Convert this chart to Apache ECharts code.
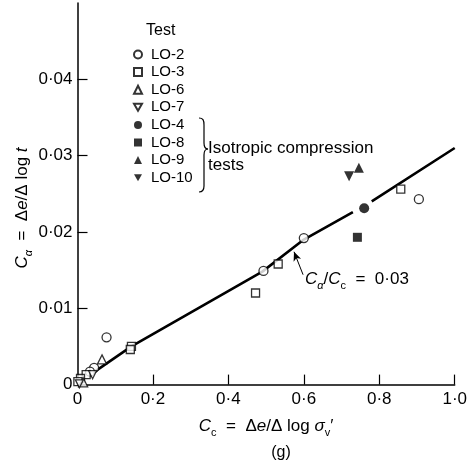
<!DOCTYPE html>
<html>
<head>
<meta charset="utf-8">
<script src="https://cdn.jsdelivr.net/npm/echarts@6/dist/echarts.min.js"></script>
<style>
html,body{margin:0;padding:0;background:#fff;}
#c{width:470px;height:462px;}
</style>
</head>
<body>
<div id="c"></div>
<script>
// ---- data ----
var xTicks = [0.2, 0.4, 0.6, 0.8, 1.0];
var xLabels = [0, 0.2, 0.4, 0.6, 0.8, 1.0];
var yTicks = [0.01, 0.02, 0.03, 0.04];
var yLabels = [0, 0.01, 0.02, 0.03, 0.04];
var legendNames = ['LO-2','LO-3','LO-6','LO-7','LO-4','LO-8','LO-9','LO-10'];

var lo2 = [[0.905,0.0243],[0.600,0.0192],[0.493,0.0149],[0.077,0.0062],[0.044,0.0022],[0.033,0.0017]];
var lo3 = [[0.857,0.0256],[0.532,0.0158],[0.472,0.0120],[0.143,0.0050],[0.140,0.0046],[0.023,0.0013],[0.008,0.0008],[0.001,0.0004]];
var lo6 = [[0.065,0.0033],[0.015,0.0003]];
var lo7 = [[0.040,0.0013],[0.005,0.0001]];
var lo4 = [[0.760,0.0231]];
var lo8 = [[0.742,0.0193]];
var lo9 = [[0.746,0.0284]];
var lo10 = [[0.720,0.0273]];
var trend = [[0.04,0.0015],[0.143,0.0050],[0.49,0.0148],[0.60,0.0190],[0.73,0.0226],'-',[0.78,0.0240],[1.0,0.0310]];

var FONT = 'Liberation Sans, Arial, Helvetica, sans-serif';
var dotFmt = function(d){ return function(v){ return v === 0 ? '0' : v.toFixed(d).replace('.', '\u00b7'); }; };
var DOWN = 'path://M0,0L10,0L5,8.66Z';

function openS(name, data, symbol, size, rot){
  return {name:name, type:'scatter', data:data, symbol:symbol, symbolSize:size, symbolRotate:rot||0,
    itemStyle:{color:'#fff', borderColor:'#000', borderWidth:1.3}, z:5};
}
function fillS(name, data, symbol, size, rot){
  return {name:name, type:'scatter', data:data, symbol:symbol, symbolSize:size, symbolRotate:rot||0,
    itemStyle:{color:'#000', borderColor:'#000', borderWidth:0}, z:5};
}

var richBase = {
  n:{fontFamily:FONT, fontSize:17, color:'#000', lineHeight:24, verticalAlign:'middle'},
  i:{fontFamily:FONT, fontSize:17, fontStyle:'italic', color:'#000', lineHeight:24, verticalAlign:'middle'},
  s:{fontFamily:FONT, fontSize:11, color:'#000', lineHeight:24, verticalAlign:'bottom'},
  si:{fontFamily:FONT, fontSize:11, fontStyle:'italic', color:'#000', lineHeight:24, verticalAlign:'bottom'}
};

var braceStyle = {fill:'none', stroke:'#000', lineWidth:1.2};
var legendIcons = {'LO-2':'circle','LO-3':'rect','LO-6':'triangle','LO-7':DOWN,'LO-4':'circle','LO-8':'rect','LO-9':'triangle','LO-10':DOWN};

var chart = echarts.init(document.getElementById('c'), null, {renderer:'canvas'});
chart.setOption({
  animation:false,
  backgroundColor:'#fff',
  grid:{left:77.5, right:14, top:3, bottom:77.4, containLabel:false},
  xAxis:{
    type:'value', min:0, max:1.0, interval:0.2,
    splitLine:{show:false},
    axisLine:{show:true, onZero:false, lineStyle:{color:'#000', width:1.5}},
    axisTick:{show:true, inside:true, length:10, lineStyle:{color:'#000', width:1.2}, customValues:xTicks},
    axisLabel:{show:true, customValues:xLabels, formatter:dotFmt(1), color:'#000', fontFamily:FONT, fontSize:17, margin:6},
    name:'{i|C}{s|c}{n|  =  Δ}{i|e}{n|/Δ log }{i|σ}{s|v}{n|′}',
    nameLocation:'middle', nameGap:30,
    nameTextStyle:{rich:richBase}
  },
  yAxis:{
    type:'value', min:0, max:0.05, interval:0.01,
    splitLine:{show:false},
    axisLine:{show:true, onZero:false, lineStyle:{color:'#000', width:1.5}},
    axisTick:{show:true, inside:true, length:10, lineStyle:{color:'#000', width:1.2}, customValues:yTicks},
    axisLabel:{show:true, customValues:yLabels, formatter:dotFmt(2), color:'#000', fontFamily:FONT, fontSize:17, margin:5}
  },
  legend:{
    orient:'vertical', left:128, top:41, itemWidth:8, itemHeight:8, itemGap:0.6,
    data:legendNames.map(function(n){ return {name:n, icon:legendIcons[n]}; }),
    textStyle:{fontFamily:FONT, fontSize:15, color:'#000', lineHeight:17, padding:[0,0,0,4]},
    selectedMode:false
  },
  graphic:[
    {type:'text', left:146, top:23, style:{text:'Test', fontFamily:FONT, fontSize:16, fill:'#000'}},
    {type:'bezierCurve', shape:{x1:199,y1:118,cpx1:203,cpy1:118,cpx2:204,cpy2:120,x2:204,y2:125}, style:braceStyle},
    {type:'line', shape:{x1:204,y1:125,x2:204,y2:143}, style:braceStyle},
    {type:'bezierCurve', shape:{x1:204,y1:143,cpx1:204,cpy1:147,cpx2:206,cpy2:149,x2:208,y2:149}, style:braceStyle},
    {type:'bezierCurve', shape:{x1:208,y1:149,cpx1:206,cpy1:149,cpx2:204,cpy2:151,x2:204,y2:155}, style:braceStyle},
    {type:'line', shape:{x1:204,y1:155,x2:204,y2:186}, style:braceStyle},
    {type:'bezierCurve', shape:{x1:204,y1:186,cpx1:204,cpy1:190,cpx2:203,cpy2:192,x2:199,y2:192}, style:braceStyle},
    {type:'text', left:208, top:140, style:{text:'Isotropic compression', fontFamily:FONT, fontSize:17, fill:'#000'}},
    {type:'text', left:208, top:157, style:{text:'tests', fontFamily:FONT, fontSize:17, fill:'#000'}},
    {type:'text', left:305, top:271, style:{text:'{i|C}{si|α}{n|/}{i|C}{s|c}{n|  =  0·03}', rich:richBase}},
    {type:'text', x:22, y:208, rotation:Math.PI/2,
      style:{text:'{i|C}{si|α}{n|  =  Δ}{i|e}{n|/Δ log }{i|t}', rich:richBase, align:'center', verticalAlign:'middle'}},
    {type:'text', x:281, y:453, style:{text:'(g)', fontFamily:FONT, fontSize:16, fill:'#000', align:'center', verticalAlign:'middle'}}
  ],
  series:[
    {name:'trend', type:'line', data:trend, showSymbol:false, symbol:'none', connectNulls:false,
      lineStyle:{color:'#000', width:2.6}, z:2, silent:true,
      markLine:{silent:true, symbol:['none','arrow'], symbolSize:[6,9],
        lineStyle:{color:'#000', width:1, type:'solid'}, label:{show:false},
        data:[[{coord:[0.598,0.0144]},{coord:[0.574,0.0174]}]]}},
    openS('LO-2', lo2, 'circle', 9),
    openS('LO-3', lo3, 'rect', 8),
    openS('LO-6', lo6, 'triangle', 9),
    openS('LO-7', lo7, 'triangle', 8, 180),
    fillS('LO-4', lo4, 'circle', 10),
    fillS('LO-8', lo8, 'rect', 9),
    fillS('LO-9', lo9, 'triangle', 10),
    fillS('LO-10', lo10, 'triangle', 10, 180)
  ]
});
</script>
</body>
</html>
